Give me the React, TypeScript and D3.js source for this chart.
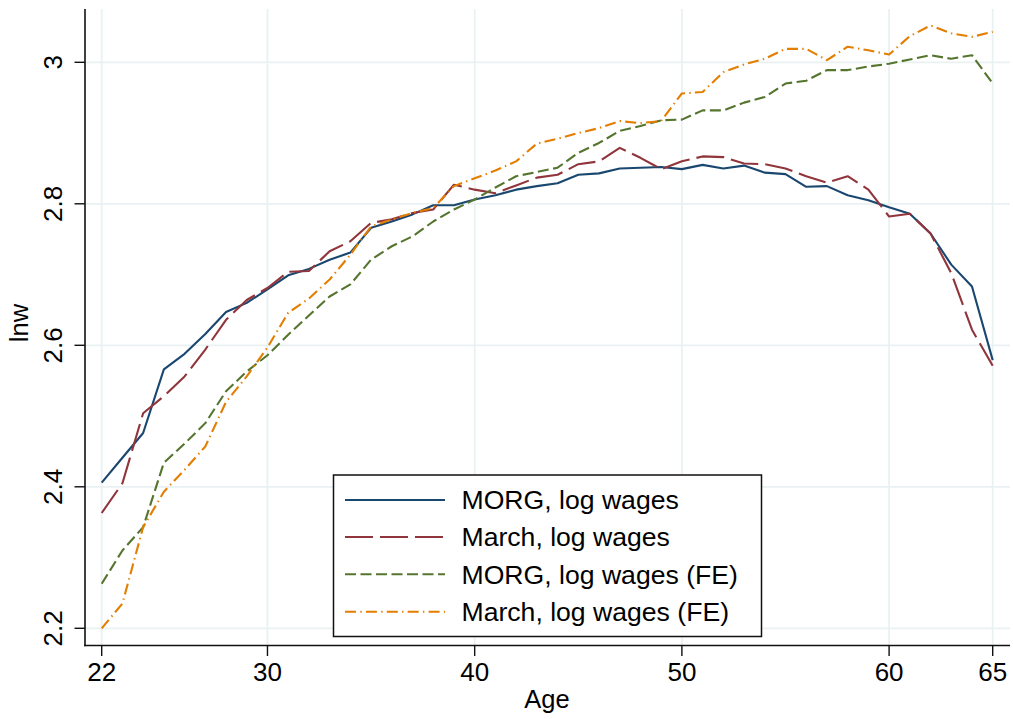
import * as d3 from "d3";

// ages 22..65
const ages: number[] = d3.range(22, 66);

const morg: number[] = [
  2.406, 2.441, 2.476, 2.566, 2.588, 2.616, 2.647, 2.66, 2.679, 2.699,
  2.708, 2.721, 2.731, 2.766, 2.775, 2.785, 2.798, 2.798, 2.806, 2.812,
  2.82, 2.825, 2.829, 2.841, 2.843, 2.85, 2.851, 2.852, 2.849, 2.855,
  2.85, 2.854, 2.844, 2.842, 2.824, 2.825, 2.812, 2.805, 2.795, 2.786,
  2.758, 2.714, 2.683, 2.579,
];

const march: number[] = [
  2.363, 2.405, 2.504, 2.528, 2.556, 2.594, 2.636, 2.664, 2.681, 2.704,
  2.705, 2.733, 2.747, 2.773, 2.778, 2.787, 2.792, 2.827, 2.82, 2.815,
  2.826, 2.837, 2.841, 2.856, 2.86, 2.879, 2.865, 2.849, 2.86, 2.867,
  2.866, 2.857, 2.856, 2.85, 2.839, 2.83, 2.839, 2.82, 2.782, 2.786,
  2.758, 2.702, 2.622, 2.571,
];

const morgFE: number[] = [
  2.263, 2.31, 2.343, 2.434, 2.461, 2.49, 2.535, 2.563, 2.586, 2.615,
  2.642, 2.669, 2.686, 2.721, 2.74, 2.754, 2.775, 2.792, 2.806, 2.823,
  2.839, 2.845, 2.851, 2.872, 2.886, 2.903, 2.91, 2.918, 2.919, 2.932,
  2.932, 2.943, 2.951, 2.97, 2.974, 2.989, 2.989, 2.994, 2.998, 3.004,
  3.01, 3.005, 3.01, 2.97,
];

const marchFE: number[] = [
  2.2, 2.235, 2.343, 2.393, 2.424, 2.457, 2.52, 2.556, 2.597, 2.646,
  2.666, 2.693, 2.728, 2.768, 2.778, 2.787, 2.794, 2.825, 2.836, 2.847,
  2.86, 2.885, 2.892, 2.9, 2.907, 2.917, 2.914, 2.917, 2.956, 2.958,
  2.986, 2.997, 3.005, 3.019, 3.019, 3.003, 3.022, 3.017, 3.011, 3.037,
  3.052, 3.041, 3.036, 3.043,
];

const xTicks: number[] = [22, 30, 40, 50, 60, 65];
const yTicks: number[] = [2.2, 2.4, 2.6, 2.8, 3];

const seriesNames: string[] = [
  "MORG, log wages",
  "March, log wages",
  "MORG, log wages (FE)",
  "March, log wages (FE)",
];

const W = 1013;
const H = 719;
const FONT = "'Liberation Sans', Arial, Helvetica, sans-serif";

const x = d3.scaleLinear().domain([22, 65]).range([101.7, 992.7]);
const y = d3.scaleLinear().domain([2.2, 3]).range([628.3, 62.3]);

const styles = [
  { color: "#1a476f", dash: "" },
  { color: "#90353b", dash: "28 7" },
  { color: "#55752f", dash: "11 4.5" },
  { color: "#e37e00", dash: "11 4.3 1.4 4.2" },
];

const allSeries = [morg, march, morgFE, marchFE];

const line = d3
  .line<number>()
  .x((_, i) => x(ages[i]))
  .y((d) => y(d));

export default function App() {
  const axisY = 645.5;
  const axisX = 85;
  const legend = { x0: 333.5, y0: 475, x1: 761.5, y1: 636.5 };
  const rowY = [500, 537, 574.3, 611.7];

  return (
    <svg
      width={W}
      height={H}
      viewBox={`0 0 ${W} ${H}`}
      style={{ position: "absolute", left: 0, top: 0, background: "#fff" }}
      fontFamily={FONT}
    >
      <rect width={W} height={H} fill="#fff" />

      {/* grid */}
      {xTicks.map((t) => (
        <line key={"gx" + t} x1={x(t)} x2={x(t)} y1={9} y2={axisY}
          stroke="#eaf1f3" strokeWidth={1.8} />
      ))}
      {yTicks.map((t) => (
        <line key={"gy" + t} x1={axisX} x2={1010} y1={y(t)} y2={y(t)}
          stroke="#eaf1f3" strokeWidth={1.8} />
      ))}

      {/* series */}
      {allSeries.map((s, i) => (
        <path key={"s" + i} d={line(s) ?? ""} fill="none"
          stroke={styles[i].color} strokeWidth={2.1}
          strokeDasharray={styles[i].dash || undefined}
          strokeLinejoin="round" />
      ))}

      {/* axes */}
      <line x1={axisX} x2={axisX} y1={9} y2={axisY + 0.8} stroke="#111" strokeWidth={1.6} />
      <line x1={axisX - 0.8} x2={1010} y1={axisY} y2={axisY} stroke="#111" strokeWidth={1.6} />
      {xTicks.map((t) => (
        <g key={"tx" + t}>
          <line x1={x(t)} x2={x(t)} y1={axisY} y2={axisY + 10.5} stroke="#111" strokeWidth={1.4} />
          <text x={x(t)} y={681} textAnchor="middle" fontSize={26} fill="#000">{t}</text>
        </g>
      ))}
      {yTicks.map((t) => (
        <g key={"ty" + t}>
          <line x1={axisX - 10.5} x2={axisX} y1={y(t)} y2={y(t)} stroke="#111" strokeWidth={1.4} />
          <text transform={`translate(62,${y(t)}) rotate(-90)`} textAnchor="middle"
            fontSize={26} fill="#000">{d3.format("~g")(t)}</text>
        </g>
      ))}

      {/* axis titles */}
      <text x={547} y={708} textAnchor="middle" fontSize={25.5} fill="#000">Age</text>
      <text transform="translate(28,323) rotate(-90)" textAnchor="middle" fontSize={25.5} fill="#000">lnw</text>

      {/* legend */}
      <rect x={legend.x0} y={legend.y0} width={legend.x1 - legend.x0} height={legend.y1 - legend.y0}
        fill="#fff" stroke="#111" strokeWidth={1.5} />
      {seriesNames.map((name, i) => (
        <g key={"lg" + i}>
          <line x1={345} x2={445} y1={rowY[i]} y2={rowY[i]} stroke={styles[i].color}
            strokeWidth={2.1} strokeDasharray={styles[i].dash || undefined} />
          <text x={461.5} y={rowY[i] + 9.3} fontSize={26.6} fill="#000">{name}</text>
        </g>
      ))}
    </svg>
  );
}
